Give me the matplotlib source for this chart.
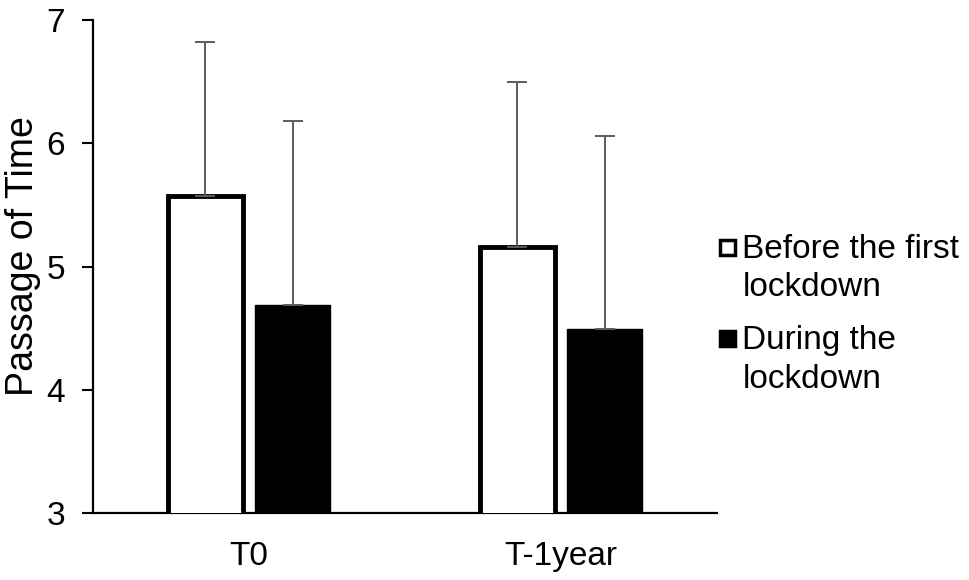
import matplotlib
matplotlib.use('Agg')
import matplotlib.pyplot as plt
import numpy as np
from matplotlib.patches import Rectangle, Patch
from matplotlib.legend_handler import HandlerPatch

plt.rcParams['font.family'] = ['Liberation Sans', 'DejaVu Sans']

# values
categories = ['T0', 'T-1year']
series_names = ['Before the first\nlockdown', 'During the\nlockdown']
before_mean = [5.575, 5.16]
before_sd = [1.245, 1.34]
during_mean = [4.69, 4.49]
during_sd = [1.49, 1.57]
yticks = [3, 4, 5, 6, 7]

LSP = 1.3  # line spacing inside legend labels


def raised_square(legend, orig_handle, xdescent, ydescent, width, height, fontsize):
    # put the marker next to the first text line, like Excel does
    s = 0.45 * fontsize
    x0 = -xdescent + (width - s) / 2
    y0 = -ydescent + (height - s) / 2 + 0.5 * LSP * fontsize
    return Rectangle((x0, y0), s, s)


fig = plt.figure(figsize=(9.69, 5.8), dpi=100)
ax = fig.add_axes([0.096, 0.1155, 0.644, 0.85])

x = np.arange(len(categories))
w = 0.24
off = 0.14
err_kw = dict(ecolor='#5c5c5c', elinewidth=1.4, capsize=7, capthick=1.4)

ax.bar(x - off, before_mean, w, color='white', edgecolor='black',
       linewidth=3.5, yerr=[np.zeros(2), before_sd], error_kw=err_kw, zorder=3)
ax.bar(x + off, during_mean, w, color='black', edgecolor='black',
       linewidth=1, yerr=[np.zeros(2), during_sd], error_kw=err_kw, zorder=3)

ax.set_ylim(3, 7)
ax.set_xlim(-0.5, 1.5)
ax.set_yticks(yticks)
ax.set_xticks(x)
ax.set_xticklabels(categories)
ax.tick_params(axis='y', labelsize=24, length=8, width=1.5, pad=12, direction='out')
ax.tick_params(axis='x', labelsize=24, length=0, pad=20)
ax.set_ylabel('Passage of Time', fontsize=27)
ax.yaxis.set_label_coords(-0.083, 0.521)

for s in ['top', 'right']:
    ax.spines[s].set_visible(False)
for s in ['left', 'bottom']:
    ax.spines[s].set_linewidth(1.6)

h1 = Patch(facecolor='white', edgecolor='black', linewidth=2.5)
h2 = Patch(facecolor='black', edgecolor='black', linewidth=2.5)
leg = fig.legend(handles=[h1, h2], labels=series_names, loc='center left',
                 bbox_to_anchor=(0.742, 0.458), frameon=False, fontsize=24,
                 borderpad=0, borderaxespad=0,
                 handlelength=0.5, handletextpad=0.2, labelspacing=0.66,
                 handler_map={Patch: HandlerPatch(patch_func=raised_square)})
for t in leg.get_texts():
    t.set_linespacing(LSP)

fig.savefig('out.png', dpi=100)
